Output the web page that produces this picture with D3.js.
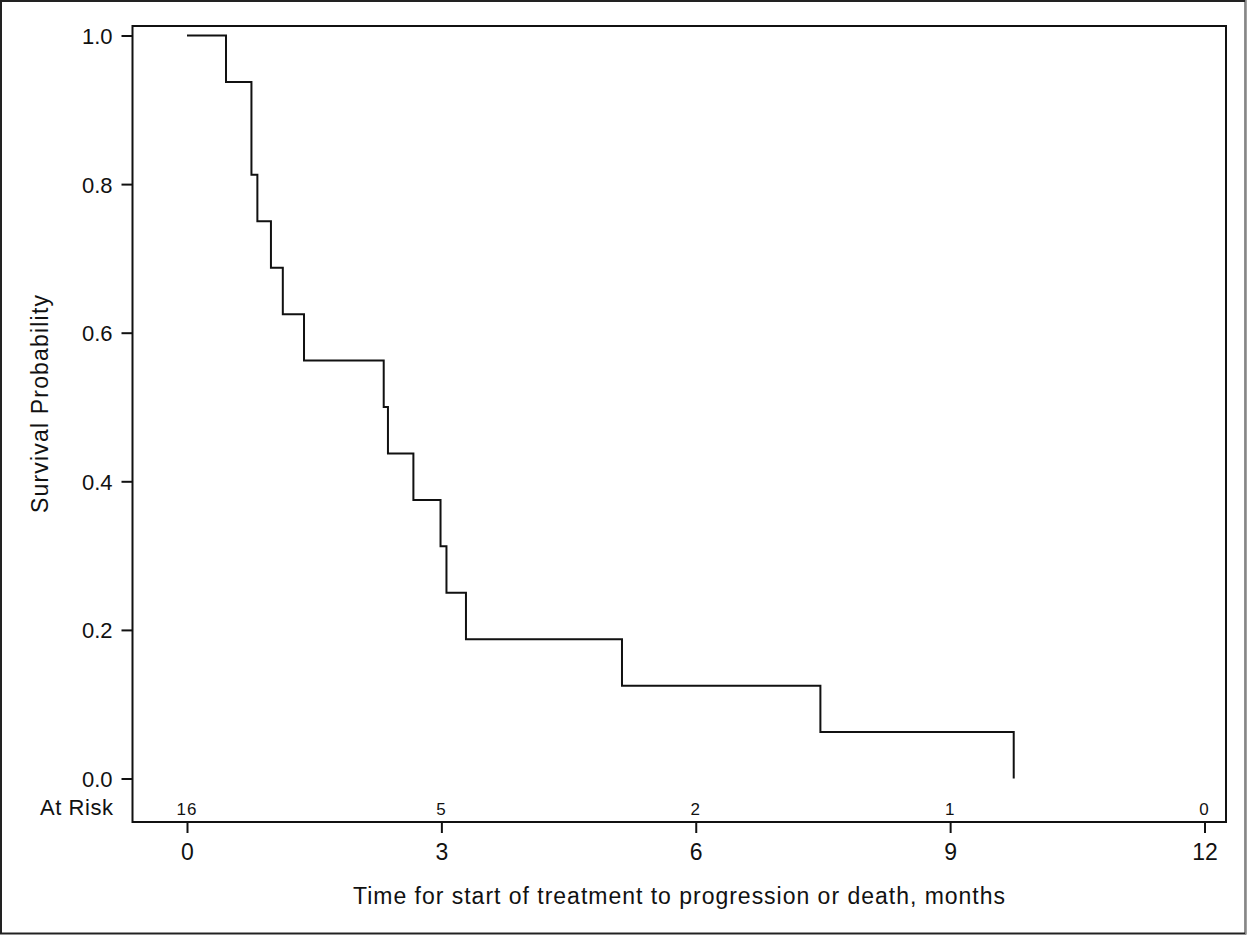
<!DOCTYPE html>
<html><head>
<meta charset="UTF-8">
<title>Survival</title>
<script src="https://d3js.org/d3.v7.min.js"></script>
<style>
  body { margin: 0; background: #fff; }
  svg text { font-family: "Liberation Sans", Arial, sans-serif; fill: #111; }
</style>
</head>
<body>
<div id="chart"></div>
<script>
// event times (months) and Kaplan-Meier survival estimate after each step
const times = [0, 0.46, 0.76, 0.83, 0.99, 1.13, 1.38, 2.32, 2.37, 2.67, 2.99, 3.06, 3.29, 5.13, 7.47, 9.75];
const survival = [1, 0.9375, 0.8125, 0.75, 0.6875, 0.625, 0.5625, 0.5, 0.4375, 0.375, 0.3125, 0.25, 0.1875, 0.125, 0.0625, 0];
const xTicks = [0, 3, 6, 9, 12];
const yTicks = [0, 0.2, 0.4, 0.6, 0.8, 1.0];
const atRisk = [16, 5, 2, 1, 0];

const W = 1247, H = 936;
const frame = { left: 132.5, top: 26, right: 1226, bottom: 822 };

const svg = d3.select("#chart").append("svg")
    .attr("width", W).attr("height", H);

// outer border
svg.append("rect")
    .attr("x", 1).attr("y", 1).attr("width", W - 2.5).attr("height", 932.5)
    .attr("fill", "#fff").attr("stroke", "#222").attr("stroke-width", 2);
svg.append("line")
    .attr("x1", W - 1).attr("x2", W - 1).attr("y1", 0).attr("y2", 934)
    .attr("stroke", "#aaa").attr("stroke-width", 1.5);

const x = d3.scaleLinear().domain([0, 12]).range([187, 1204.5]);
const y = d3.scaleLinear().domain([0, 1]).range([778.5, 35.5]);

// plot frame
svg.append("rect")
    .attr("x", frame.left).attr("y", frame.top)
    .attr("width", frame.right - frame.left).attr("height", frame.bottom - frame.top)
    .attr("fill", "none").attr("stroke", "#111").attr("stroke-width", 2);

// y axis
const yAxis = svg.append("g")
    .attr("transform", `translate(${frame.left},0)`)
    .call(d3.axisLeft(y).tickValues(yTicks).tickFormat(d3.format(".1f")).tickSize(11).tickPadding(9));
yAxis.select(".domain").remove();
yAxis.selectAll("line").attr("stroke", "#111").attr("stroke-width", 2);
yAxis.selectAll("text").style("font-size", "22px").attr("dy", "0.36em");

// x axis
const xAxis = svg.append("g")
    .attr("transform", `translate(0,${frame.bottom})`)
    .call(d3.axisBottom(x).tickValues(xTicks).tickFormat(d3.format("d")).tickSize(11));
xAxis.select(".domain").remove();
xAxis.selectAll("line").attr("stroke", "#111").attr("stroke-width", 2);
xAxis.selectAll("text").style("font-size", "23px").attr("y", 38).attr("dy", null);

// number at risk row
svg.append("text")
    .attr("x", 113).attr("y", 815)
    .attr("text-anchor", "end")
    .style("font-size", "22px")
    .attr("textLength", 73).attr("lengthAdjust", "spacing")
    .text("At Risk");
svg.selectAll(".risk")
    .data(atRisk)
    .enter().append("text")
    .attr("class", "risk")
    .attr("x", (d, i) => x(xTicks[i]))
    .attr("y", 815)
    .attr("text-anchor", "middle")
    .style("font-size", "17px")
    .style("letter-spacing", "1px")
    .text(d => d);

// survival curve
const pts = times.map((t, i) => [t, survival[i]]);
svg.append("path")
    .datum(pts)
    .attr("fill", "none")
    .attr("stroke", "#111")
    .attr("stroke-width", 2)
    .attr("d", d3.line().x(d => x(d[0])).y(d => y(d[1])).curve(d3.curveStepAfter));

// axis titles
svg.append("text")
    .attr("x", 679).attr("y", 904)
    .attr("text-anchor", "middle")
    .style("font-size", "23px")
    .attr("textLength", 652).attr("lengthAdjust", "spacing")
    .text("Time for start of treatment to progression or death, months");

svg.append("text")
    .attr("transform", "translate(48,404) rotate(-90)")
    .attr("text-anchor", "middle")
    .style("font-size", "23px")
    .attr("textLength", 218).attr("lengthAdjust", "spacing")
    .text("Survival Probability");
</script>
</body>
</html>
